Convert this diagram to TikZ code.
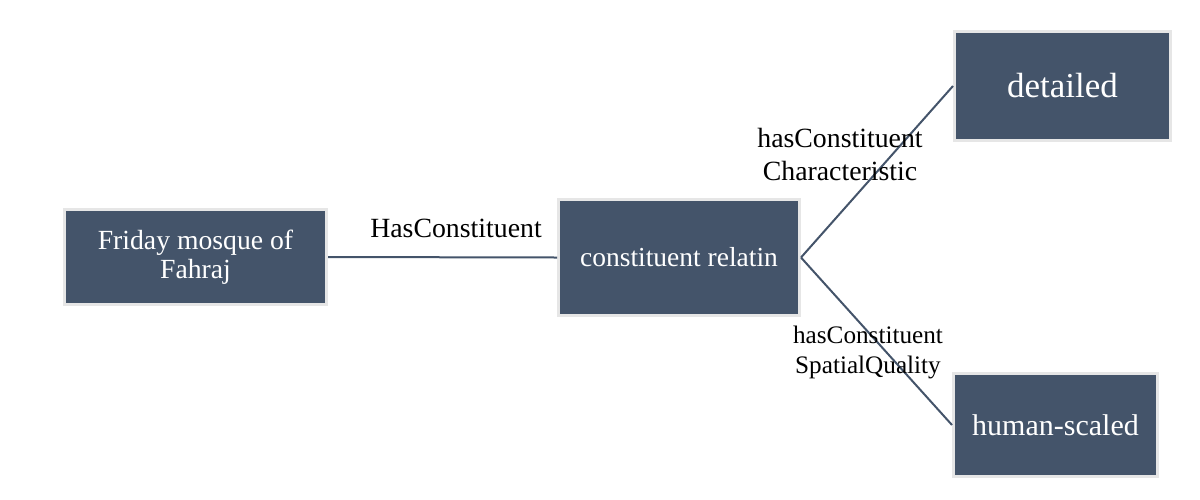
\documentclass[tikz,border=0pt]{standalone}
\usepackage{fontspec}
\setmainfont{Liberation Serif}
\definecolor{boxfill}{HTML}{44546A}
\definecolor{boxedge}{HTML}{E6E6E6}
\begin{document}
\begin{tikzpicture}[x=1pt,y=-1pt,
	box/.style={draw=boxedge, line width=3pt, fill=boxfill, text=white, align=center, inner sep=0pt},
	link/.style={draw=boxfill, line width=2pt},
	lbl/.style={text=black, align=center, inner sep=0pt}]

	\useasboundingbox (0,0) rectangle (1200,499);

	% boxes
	\node [box, minimum width=262pt, minimum height=95pt, font=\fontsize{27.7}{29}\selectfont] (friday) at (195.5,257) {Friday mosque of\\Fahraj};
	\node [box, minimum width=241pt, minimum height=116pt, font=\fontsize{27.5}{29}\selectfont] (relatin) at (679,257.5) {constituent relatin};
	\node [box, minimum width=216pt, minimum height=109pt, font=\fontsize{35}{36}\selectfont] (detailed) at (1062.5,86) {detailed};
	\node [box, minimum width=204pt, minimum height=103pt, font=\fontsize{30}{32}\selectfont] (human) at (1055.5,425) {human-scaled};

	% links
	\draw [link] (friday.east) -- (relatin.west);
	\draw [link] (relatin.east) -- (detailed.west);
	\draw [link] (relatin.east) -- (human.west);

	% labels
	\node [lbl, font=\fontsize{27.8}{33}\selectfont] (has) at (456,228) {HasConstituent};
	\node [lbl, font=\fontsize{27.8}{33}\selectfont] (charlbl) at (840,154) {hasConstituent\\Characteristic};
	\node [lbl, font=\fontsize{25.2}{30}\selectfont] (spatlbl) at (868,352) {hasConstituent\\SpatialQuality};

\end{tikzpicture}
\end{document}
